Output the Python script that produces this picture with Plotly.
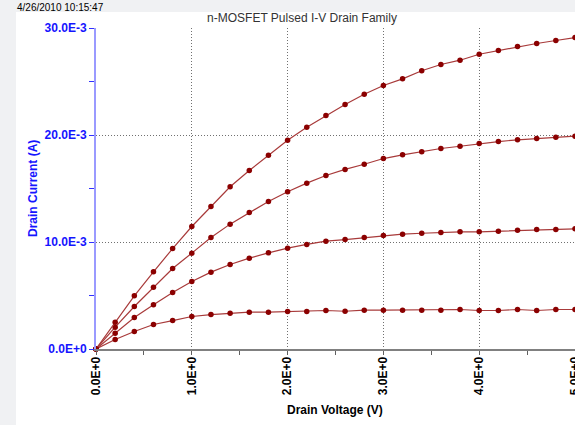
import plotly.graph_objects as go

# Drain voltage sweep (V)
drain_voltage = [0.0, 0.2, 0.4, 0.6, 0.8, 1.0, 1.2, 1.4, 1.6, 1.8, 2.0, 2.2, 2.4,
                 2.6, 2.8, 3.0, 3.2, 3.4, 3.6, 3.8, 4.0, 4.2, 4.4, 4.6, 4.8, 5.0]

# Drain current (mA) for each gate step
id_curve1 = [0.0, 0.89, 1.64, 2.29, 2.66, 3.04, 3.22, 3.35, 3.44, 3.44, 3.50, 3.50, 3.60,
             3.53, 3.63, 3.63, 3.63, 3.63, 3.63, 3.69, 3.60, 3.60, 3.69, 3.60, 3.69, 3.69]
id_curve2 = [0.0, 1.48, 2.94, 4.13, 5.28, 6.31, 7.18, 7.90, 8.49, 8.99, 9.42, 9.77, 10.08,
             10.23, 10.42, 10.61, 10.73, 10.82, 10.89, 10.95, 10.95, 11.01, 11.10, 11.17, 11.17, 11.23]
id_curve3 = [0.0, 2.04, 3.97, 5.78, 7.52, 8.96, 10.42, 11.67, 12.76, 13.79, 14.69, 15.50, 16.21,
             16.78, 17.27, 17.80, 18.15, 18.43, 18.74, 18.95, 19.20, 19.39, 19.55, 19.67, 19.79, 19.89]
id_curve4 = [0.0, 2.50, 4.97, 7.21, 9.39, 11.45, 13.32, 15.16, 16.68, 18.11, 19.51, 20.73, 21.82,
             22.85, 23.81, 24.63, 25.25, 26.00, 26.59, 26.99, 27.55, 27.90, 28.27, 28.55, 28.83, 29.11]

x_tick_vals = [0, 1, 2, 3, 4, 5]
x_tick_text = ["0.0E+0", "1.0E+0", "2.0E+0", "3.0E+0", "4.0E+0", "5.0E+0"]
y_tick_vals = [0, 10e-3, 20e-3, 30e-3]
y_tick_text = ["0.0E+0", "10.0E-3", "20.0E-3", "30.0E-3"]

title_text = "n-MOSFET Pulsed I-V Drain Family"
timestamp_text = "4/26/2010 10:15:47"
x_title = "Drain Voltage (V)"
y_title = "Drain Current (A)"

W, H = 575, 425
ML, MR, MT, MB = 96, 0, 28, 76
PW, PH = W - ML - MR, H - MT - MB


def px_x(p):
    return (p - ML) / PW


def px_y(p):
    return (H - MB - p) / PH


fig = go.Figure()
for curve in [id_curve1, id_curve2, id_curve3, id_curve4]:
    fig.add_trace(go.Scatter(
        x=drain_voltage,
        y=[v * 1e-3 for v in curve],
        mode="lines+markers",
        line=dict(color="#a83a3a", width=1.2),
        marker=dict(color="#8b0000", size=5.5, symbol="circle"),
        cliponaxis=False,
        showlegend=False,
    ))

font_main = "Liberation Sans, Arial, sans-serif"

fig.update_layout(
    width=W, height=H,
    margin=dict(l=ML, r=MR, t=MT, b=MB, pad=0),
    paper_bgcolor="#f0f1f3",
    plot_bgcolor="white",
    font=dict(family=font_main, size=12, color="black"),
    title=dict(text=title_text, x=302 / W, y=1 - 18 / H, xref="container", yref="container",
               xanchor="center", yanchor="middle",
               font=dict(family=font_main, size=12, color="#333333")),
    shapes=[dict(type="rect", xref="paper", yref="paper",
                 x0=px_x(16), x1=px_x(W + 5), y0=px_y(H + 5), y1=px_y(12),
                 fillcolor="white", line=dict(width=0), layer="below")],
    xaxis=dict(
        range=[0, 5], tickmode="array", tickvals=x_tick_vals, ticktext=x_tick_text,
        tickangle=-90, tickfont=dict(family=font_main, size=12, color="black", weight="bold"),
        ticks="outside", ticklen=4, tickcolor="#606060", tickwidth=1,
        ticklabeloverflow="allow", ticklabelstandoff=-3,
        minor=dict(dtick=0.5, tick0=0, ticks="outside", ticklen=4, tickcolor="#606060", tickwidth=1),
        showline=True, linecolor="#808080", linewidth=2,
        showgrid=True, gridcolor="#707070", griddash="1px,2px", gridwidth=1,
        zeroline=False, automargin=False, fixedrange=True,
    ),
    yaxis=dict(
        range=[0, 30e-3], tickmode="array", tickvals=y_tick_vals, ticktext=y_tick_text,
        tickfont=dict(family=font_main, size=12, color="#1515ff", weight="bold"),
        ticks="outside", ticklen=5, tickcolor="#3030ff", tickwidth=1,
        minor=dict(dtick=5e-3, tick0=0, ticks="outside", ticklen=5, tickcolor="#3030ff", tickwidth=1),
        showline=True, linecolor="#9a9aff", linewidth=2,
        showgrid=True, gridcolor="#707070", griddash="1px,2px", gridwidth=1,
        zeroline=False, automargin=False, fixedrange=True,
    ),
    annotations=[
        dict(text=timestamp_text, xref="paper", yref="paper", x=px_x(15), y=px_y(8),
             xanchor="left", yanchor="middle", showarrow=False,
             font=dict(family="Liberation Sans Narrow, Arial Narrow, Liberation Sans", size=10, color="black")),
        dict(text=x_title, xref="paper", yref="paper", x=px_x(335), y=px_y(410),
             xanchor="center", yanchor="middle", showarrow=False,
             font=dict(family=font_main, size=12, color="black", weight="bold")),
        dict(text=y_title, xref="paper", yref="paper", x=px_x(33), y=px_y(189),
             xanchor="center", yanchor="middle", showarrow=False, textangle=-90,
             font=dict(family=font_main, size=12, color="#1515ff", weight="bold")),
    ],
)

fig.write_html("out.html", config={"displayModeBar": False},
               post_script="document.body.style.margin='0';document.body.style.overflow='hidden';")
